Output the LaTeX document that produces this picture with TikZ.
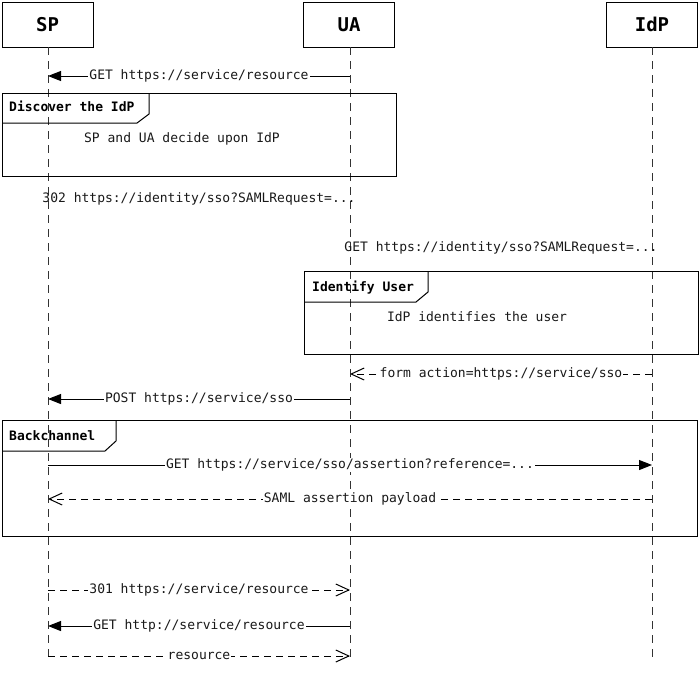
\documentclass[tikz,border=0pt]{standalone}
\usepackage{fontspec}
\setmonofont{DejaVu Sans Mono}
\usetikzlibrary{arrows.meta}

\tikzset{
  actor/.style={draw, line width=1pt, minimum width=91pt, minimum height=45pt,
    inner sep=0pt, font=\ttfamily\bfseries\fontsize{19}{22}\selectfont},
  lifeline/.style={draw=black!80, line width=1pt, dash pattern=on 8pt off 6pt},
  call/.style={line width=1pt, -{Triangle[length=13pt,width=10pt]}},
  reply/.style={line width=1pt, dash pattern=on 7pt off 5pt,
    -{Straight Barb[length=13pt,width=12pt,line width=1pt]}},
  msglabel/.style={midway, fill=white, inner xsep=1pt, inner ysep=1pt,
    text height=9pt, text depth=3pt, text=black!90},
  plain/.style={text=black!90, text height=9pt, text depth=3pt, inner sep=1pt},
  framebox/.style={draw, line width=1pt},
  framelabel/.style={anchor=west, text height=9pt, text depth=3pt, inner sep=0pt,
    font=\ttfamily\bfseries\fontsize{13}{15}\selectfont},
}

\begin{document}
\begin{tikzpicture}[x=1pt, y=-1pt, font=\ttfamily\fontsize{13}{15}\selectfont]
\useasboundingbox (0,0) rectangle (700,673);

% participants
\node[actor] (sp)  at (47.5,24.5) {SP};
\node[actor] (ua)  at (349,24.5)  {UA};
\node[actor] (idp) at (652,24.5)  {IdP};

% lifeline ends
\coordinate (spend)  at (48,660);
\coordinate (uaend)  at (350,660);
\coordinate (idpend) at (652,660);
\coordinate (sptop)  at (48,47);
\coordinate (uatop)  at (350,47);
\coordinate (idptop) at (652,47);

\draw[lifeline] (sptop) -- (spend);
\draw[lifeline] (uatop) -- (uaend);
\draw[lifeline] (idptop) -- (idpend);

% frames
\draw[framebox] (2,93) rectangle (396,176);
\draw[framebox] (149,93) -- (149,114) -- (137,123) -- (2,123);
\node[framelabel] (f1) at (9,108) {Discover the IdP};
\node[plain] (f1t) at (182,139) {SP and UA decide upon IdP};

\draw[framebox] (304,271) rectangle (698,354);
\draw[framebox] (428,271) -- (428,292) -- (416,302) -- (304,302);
\node[framelabel] (f2) at (312,288) {Identify User};
\node[plain] (f2t) at (477,318) {IdP identifies the user};

\draw[framebox] (2,420) rectangle (697,536);
\draw[framebox] (116,420) -- (116,441) -- (105,451) -- (2,451);
\node[framelabel] (f3) at (9,437) {Backchannel};

% message rows
\coordinate (r1) at (0,76);
\coordinate (r2) at (0,374);
\coordinate (r3) at (0,399);
\coordinate (r4) at (0,465);
\coordinate (r5) at (0,499);
\coordinate (r6) at (0,590);
\coordinate (r7) at (0,626);
\coordinate (r8) at (0,656);

\draw[call]  (uaend |- r1) -- (spend |- r1)
  node[msglabel] {GET https://service/resource};

\node[plain] (redir) at (199,199) {302 https://identity/sso?SAMLRequest=...};
\node[plain] (ssoget) at (501,248) {GET https://identity/sso?SAMLRequest=...};

\draw[reply] (idpend |- r2) -- (uaend |- r2)
  node[msglabel] {form action=https://service/sso};
\draw[call]  (uaend |- r3) -- (spend |- r3)
  node[msglabel] {POST https://service/sso};
\draw[call]  (spend |- r4) -- (idpend |- r4)
  node[msglabel] {GET https://service/sso/assertion?reference=...};
\draw[reply] (idpend |- r5) -- (spend |- r5)
  node[msglabel] {SAML assertion payload};
\draw[reply] (spend |- r6) -- (uaend |- r6)
  node[msglabel] {301 https://service/resource};
\draw[call]  (uaend |- r7) -- (spend |- r7)
  node[msglabel] {GET http://service/resource};
\draw[reply] (spend |- r8) -- (uaend |- r8)
  node[msglabel] {resource};
\end{tikzpicture}
\end{document}
